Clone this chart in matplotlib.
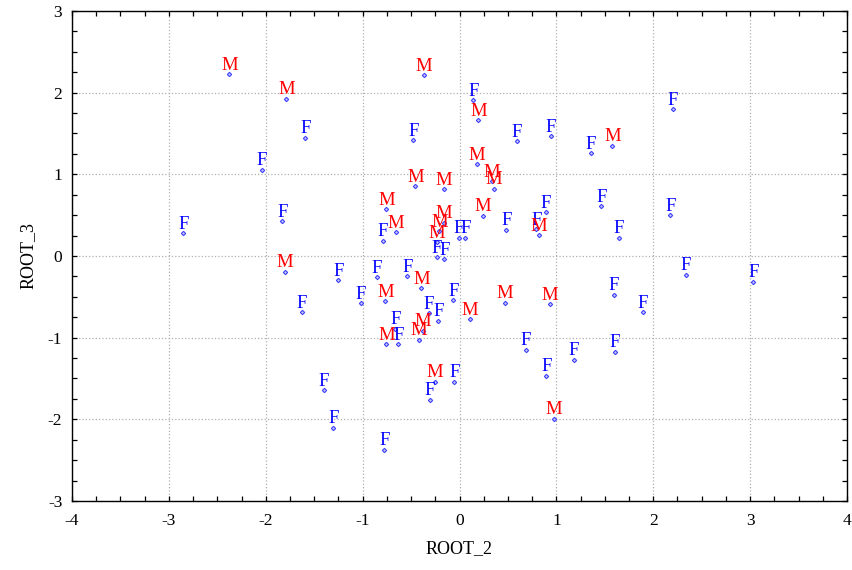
import matplotlib
matplotlib.use("Agg")
import matplotlib.pyplot as plt
from matplotlib.ticker import MultipleLocator

# canonical scores
m_root2 = [-2.376, -1.787, -0.369, -0.455, -0.165, -0.754, -0.654, -0.165, -0.207, -0.231,
           0.196, 1.577, 0.183, 0.337, 0.355, 0.245, 0.816, -1.801, -0.393, -0.764,
           -0.379, -0.420, -0.754, -0.255, 0.107, 0.472, 0.930, 0.971]
m_root3 = [2.224, 1.926, 2.212, 0.856, 0.815, 0.570, 0.292, 0.407, 0.304, 0.169,
           1.661, 1.350, 1.121, 0.917, 0.823, 0.492, 0.251, -0.194, -0.394, -0.553,
           -0.913, -1.023, -1.081, -1.538, -0.774, -0.570, -0.594, -1.991]

f_root2 = [-1.591, -2.039, -2.851, -1.829, -0.478, -0.792, 0.141, 0.592, 0.943, 1.353,
           2.200, 1.464, 2.176, 1.643, 0.482, 0.888, 0.792, -0.010, 0.059, -0.231,
           -0.158, -1.250, -1.629, -0.854, -1.016, -0.540, -0.065, -0.317, -0.217, -0.661,
           -0.630, -0.055, -0.307, -1.401, -1.302, -0.775, 1.591, 1.890, 2.335, 3.034,
           0.682, 1.178, 1.605, 0.895]
f_root3 = [1.444, 1.056, 0.279, 0.427, 1.415, 0.186, 1.906, 1.403, 1.468, 1.256,
           1.795, 0.610, 0.496, 0.223, 0.321, 0.533, 0.328, 0.223, 0.223, -0.018,
           -0.039, -0.300, -0.689, -0.259, -0.578, -0.247, -0.545, -0.701, -0.794, -0.888,
           -1.081, -1.538, -1.762, -1.645, -2.102, -2.371, -0.476, -0.689, -0.231, -0.317,
           -1.146, -1.268, -1.175, -1.469]

plt.rcParams['font.family'] = ['Liberation Serif', 'DejaVu Serif']
plt.rcParams['axes.unicode_minus'] = False

fig = plt.figure(figsize=(8.53, 5.70), dpi=100)
ax = fig.add_axes([0.0844, 0.1211, 0.9086, 0.8596])

for xs, ys, lab, col in [(f_root2, f_root3, "F", "#0000ff"), (m_root2, m_root3, "M", "#ff0000")]:
    ax.plot(xs, ys, linestyle="none", marker="D", markersize=2.2,
            markerfacecolor="#c8c8ff", markeredgecolor="#4040ff", markeredgewidth=0.8)
    for x, y in zip(xs, ys):
        ax.annotate(lab, (x, y), xytext=(0, 3.3), textcoords="offset points",
                    ha="center", va="baseline", color=col, fontsize=13.5)

ax.set_xlim(-4, 4)
ax.set_ylim(-3, 3)
ax.xaxis.set_major_locator(MultipleLocator(1))
ax.yaxis.set_major_locator(MultipleLocator(1))
ax.xaxis.set_minor_locator(MultipleLocator(0.25))
ax.yaxis.set_minor_locator(MultipleLocator(0.25))
ax.tick_params(which="both", direction="in", top=True, right=True, length=3.5, width=0.9)
ax.tick_params(axis="x", pad=9, labelsize=12.5)
ax.tick_params(axis="y", pad=7, labelsize=12.5)
ax.grid(True, which="major", linestyle=":", color="#b0b0b0", linewidth=0.9)
for s in ax.spines.values():
    s.set_linewidth(1.0)

ax.set_xlabel("ROOT_2", fontsize=13, labelpad=8)
ax.set_ylabel("ROOT_3", fontsize=13, labelpad=8)

fig.savefig("out.png", dpi=100)
